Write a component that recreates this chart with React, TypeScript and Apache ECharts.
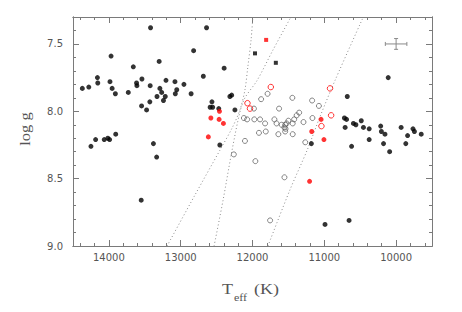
import React, { useEffect, useRef } from 'react';
import * as echarts from 'echarts';

// [Teff (K), log g]
const blackFilled: number[][] = [
  [14370, 7.83], [14280, 7.82], [14160, 7.75], [14155, 7.79], [13985, 7.78], [13970, 7.59],
  [13955, 7.83], [13910, 7.87], [13730, 7.86], [13660, 7.67], [13615, 7.79], [13610, 7.81],
  [13540, 7.76], [13545, 7.96], [13475, 7.99], [13420, 7.38], [13425, 7.81], [13430, 7.93],
  [13300, 7.63], [13290, 7.83], [13265, 7.86], [13330, 7.89], [13240, 7.92], [13215, 7.89],
  [13205, 7.77], [13080, 7.78], [13055, 7.84], [13075, 7.87], [12955, 7.80], [12855, 7.87],
  [12820, 7.55],
  [14250, 8.26], [14185, 8.21], [14065, 8.21], [14015, 8.20], [13990, 8.21], [13905, 8.17],
  [13380, 8.24], [13335, 8.34], [13550, 8.66],
  [12640, 7.38], [12395, 7.68], [12685, 7.74], [12315, 7.89], [12290, 7.88], [12565, 7.93],
  [12590, 7.97], [12555, 7.97], [12470, 7.98], [12245, 7.99], [12455, 8.25],
  [10680, 7.89], [10110, 7.75], [11180, 8.24], [10720, 8.05], [10690, 8.06], [10710, 8.12],
  [10595, 8.09], [10560, 8.10], [10485, 8.07], [10455, 8.12], [10375, 8.13], [10375, 8.21],
  [10620, 8.26], [10215, 8.11], [10205, 8.15], [10155, 8.17], [10175, 8.24], [10090, 8.30],
  [9930, 8.12], [9865, 8.24], [9840, 8.18], [9765, 8.13], [9745, 8.15], [9650, 8.17],
  [10990, 8.84], [10655, 8.81],
];
const blackSquares: number[][] = [[11965, 7.57], [11675, 7.64]];
const redSquares: number[][] = [[11810, 7.47]];
const redFilled: number[][] = [
  [12580, 8.05], [12460, 8.00], [12465, 8.06], [12405, 8.09], [12615, 8.19],
  [11045, 8.06], [11175, 8.15], [11005, 8.21], [11205, 8.52],
];
const redOpen: number[][] = [
  [12070, 7.94], [12035, 7.98], [11745, 7.82], [10920, 7.83], [10905, 8.03], [11040, 8.11],
];
const blackOpen: number[][] = [
  [11880, 7.91], [11790, 7.87], [11630, 7.98], [11445, 7.90], [11170, 7.92], [11075, 7.96],
  [11350, 8.01], [11385, 8.03], [11420, 8.06], [11440, 8.09], [11290, 8.08], [11165, 8.05],
  [12120, 8.05], [12075, 8.06], [11975, 8.06], [11895, 8.06], [11825, 8.09], [11695, 8.06],
  [11665, 8.09], [11595, 8.10], [11545, 8.10], [11525, 8.09], [11500, 8.07], [11555, 8.12],
  [11540, 8.13], [11910, 8.16], [11815, 8.15], [11640, 8.17], [11545, 8.15], [11440, 8.17],
  [12105, 8.22], [11265, 8.23], [12260, 8.32], [11960, 8.37], [11555, 8.49], [11755, 8.81],
  [11980, 7.98],
];
const curve1: number[][] = [
  [13190, 9.0], [12800, 8.62], [12455, 8.29], [12285, 8.125], [12175, 7.99], [12105, 7.84],
  [12065, 7.67], [12020, 7.47], [11995, 7.3],
];
const curve2: number[][] = [
  [12535, 9.0], [12410, 8.66], [12285, 8.29], [12175, 8.005], [12105, 7.90], [11935, 7.77],
  [11715, 7.545], [11465, 7.3],
];
const curve3: number[][] = [
  [11785, 9.0], [11480, 8.585], [11240, 8.29], [11060, 8.04], [10850, 7.77], [10457, 7.3],
];
// [Teff, log g, dTeff, dlog g]
const errorBar: number[][] = [[10000, 7.5, 150, 0.04]];

const xMajor = [10000, 11000, 12000, 13000, 14000];
const xMinor = [9600, 9800, 10200, 10400, 10600, 10800, 11200, 11400, 11600, 11800, 12200, 12400,
  12600, 12800, 13200, 13400, 13600, 13800, 14200, 14400];
const yMajor = [7.5, 8.0, 8.5, 9.0];
const yMinor = [7.4, 7.6, 7.7, 7.8, 7.9, 8.1, 8.2, 8.3, 8.4, 8.6, 8.7, 8.8, 8.9];

const AX = '#7a7a7a';
const LABEL_FONT = 'DejaVu Sans';
const TITLE_FONT = 'Liberation Serif';
const TITLE_COLOR = '#555';

function xAxis(position: 'top' | 'bottom', ticks: number[], len: number, labels: boolean) {
  return {
    type: 'value', position, min: 9500, max: 14500, inverse: true,
    axisLine: { show: true, onZero: false, lineStyle: { color: AX, width: 1 } },
    axisTick: { show: true, inside: true, length: len, customValues: ticks, lineStyle: { color: AX, width: 1 } },
    axisLabel: labels
      ? { show: true, customValues: ticks, margin: 6, color: '#555', fontSize: 10, fontFamily: LABEL_FONT, formatter: (v: number) => String(v) }
      : { show: false },
    splitLine: { show: false },
  };
}
function yAxis(position: 'left' | 'right', ticks: number[], len: number, labels: boolean) {
  return {
    type: 'value', position, min: 7.3, max: 9.0, inverse: true,
    axisLine: { show: true, onZero: false, lineStyle: { color: AX, width: 1 } },
    axisTick: { show: true, inside: true, length: len, customValues: ticks, lineStyle: { color: AX, width: 1 } },
    axisLabel: labels
      ? { show: true, customValues: ticks, margin: 10, color: '#555', fontSize: 10, fontFamily: LABEL_FONT, formatter: (v: number) => v.toFixed(1) }
      : { show: false },
    splitLine: { show: false },
  };
}

function curveSeries(data: number[][]) {
  return {
    type: 'line', data, showSymbol: false, symbol: 'none', smooth: 0.3, silent: true,
    lineStyle: { color: '#8a8a8a', width: 1, type: [1, 2.5] }, z: 1,
  };
}

export default function App() {
  const ref = useRef<HTMLDivElement>(null);
  useEffect(() => {
    if (!ref.current) return;
    const chart = echarts.init(ref.current, undefined, { renderer: 'svg' });
    chart.setOption({
      animation: false,
      backgroundColor: '#fff',
      grid: { left: 73, top: 17, right: 30, bottom: 66, containLabel: false },
      xAxis: [
        xAxis('bottom', xMajor, 6, true),
        xAxis('bottom', xMinor, 3, false),
        xAxis('top', xMajor, 6, false),
        xAxis('top', xMinor, 3, false),
      ],
      yAxis: [
        yAxis('left', yMajor, 6, true),
        yAxis('left', yMinor, 3, false),
        yAxis('right', yMajor, 6, false),
        yAxis('right', yMinor, 3, false),
      ],
      series: [
        curveSeries(curve1),
        curveSeries(curve2),
        curveSeries(curve3),
        {
          type: 'custom', data: errorBar, silent: true, z: 2,
          renderItem: (_p: any, api: any) => {
            const x = api.value(0), y = api.value(1), dx = api.value(2), dy = api.value(3);
            const a = api.coord([x - dx, y]);
            const b = api.coord([x + dx, y]);
            const c = api.coord([x, y - dy]);
            const d = api.coord([x, y + dy]);
            const cap = 2;
            const style = { stroke: '#8a8a8a', lineWidth: 1 };
            return {
              type: 'group',
              children: [
                { type: 'line', shape: { x1: a[0], y1: a[1], x2: b[0], y2: b[1] }, style },
                { type: 'line', shape: { x1: c[0], y1: c[1], x2: d[0], y2: d[1] }, style },
                { type: 'line', shape: { x1: a[0], y1: a[1] - cap, x2: a[0], y2: a[1] + cap }, style },
                { type: 'line', shape: { x1: b[0], y1: b[1] - cap, x2: b[0], y2: b[1] + cap }, style },
                { type: 'line', shape: { x1: c[0] - cap, y1: c[1], x2: c[0] + cap, y2: c[1] }, style },
                { type: 'line', shape: { x1: d[0] - cap, y1: d[1], x2: d[0] + cap, y2: d[1] }, style },
              ],
            };
          },
        },
        {
          type: 'scatter', data: blackOpen, symbol: 'circle', symbolSize: 5, silent: true, z: 3,
          itemStyle: { color: 'rgba(255,255,255,0)', borderColor: '#555', borderWidth: 0.9 },
        },
        {
          type: 'scatter', data: redOpen, symbol: 'circle', symbolSize: 5.5, silent: true, z: 3,
          itemStyle: { color: 'rgba(255,255,255,0)', borderColor: '#ff0000', borderWidth: 1 },
        },
        {
          type: 'scatter', data: blackFilled, symbol: 'circle', symbolSize: 5, silent: true, z: 4,
          itemStyle: { color: '#000' },
        },
        {
          type: 'scatter', data: redFilled, symbol: 'circle', symbolSize: 5, silent: true, z: 4,
          itemStyle: { color: '#ff0000' },
        },
        {
          type: 'scatter', data: blackSquares, symbol: 'rect', symbolSize: 4, silent: true, z: 4,
          itemStyle: { color: '#000' },
        },
        {
          type: 'scatter', data: redSquares, symbol: 'rect', symbolSize: 4, silent: true, z: 4,
          itemStyle: { color: '#ff0000' },
        },
      ],
      graphic: [
        {
          type: 'text', x: 25, y: 129, rotation: Math.PI / 2, scaleX: 1.1,
          style: { text: 'log g', font: `15px "${TITLE_FONT}"`, fill: TITLE_COLOR, textAlign: 'center', textVerticalAlign: 'middle' },
        },
        {
          type: 'text', x: 222, y: 297, scaleX: 1.2,
          style: { text: 'T', font: `15px "${TITLE_FONT}"`, fill: TITLE_COLOR, textAlign: 'left', textVerticalAlign: 'bottom' },
        },
        {
          type: 'text', x: 234, y: 302, scaleX: 1.2,
          style: { text: 'eff', font: `10px "${TITLE_FONT}"`, fill: TITLE_COLOR, textAlign: 'left', textVerticalAlign: 'bottom' },
        },
        {
          type: 'text', x: 254, y: 297, scaleX: 1.2,
          style: { text: '(K)', font: `15px "${TITLE_FONT}"`, fill: TITLE_COLOR, textAlign: 'left', textVerticalAlign: 'bottom' },
        },
      ],
    });
    return () => chart.dispose();
  }, []);
  return <div ref={ref} style={{ position: 'fixed', left: 0, top: 0, width: 462, height: 312 }} />;
}
